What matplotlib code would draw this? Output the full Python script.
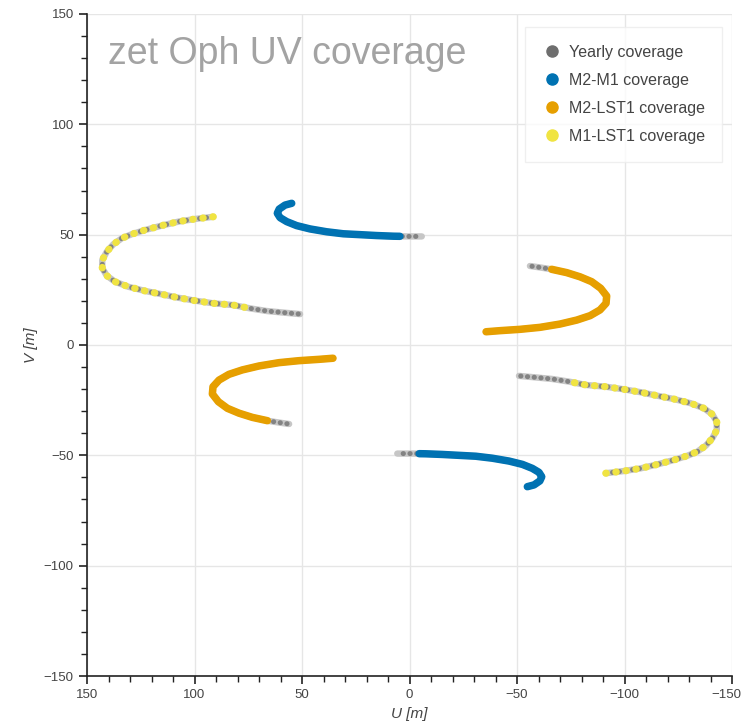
"""zet Oph UV coverage: yearly track per baseline with the observed part coloured."""

import matplotlib
matplotlib.use("Agg")
import matplotlib.pyplot as plt
from matplotlib.lines import Line2D
from matplotlib.ticker import FuncFormatter, MultipleLocator
import numpy as np

plt.rcParams["font.family"] = ["Liberation Sans", "DejaVu Sans"]

# One half of each baseline track (U, V in metres); the conjugate half is (-U, -V).
# Points are ordered so the observed (coloured) part comes first.
m1lst1_u = [91.3, 99.8, 107.5, 115.3, 123.0, 129.2, 133.9, 137.8, 140.8, 142.9, 142.9,
            140.8, 137.0, 130.8, 123.0, 115.3, 107.5, 99.8, 91.3, 82.0, 74.2,
            66.4, 58.8, 50.9]
m1lst1_v = [58.1, 57.1, 55.9, 54.1, 52.1, 50.2, 48.3, 45.6, 42.3, 38.5, 34.8,
            31.4, 28.7, 26.4, 24.5, 23.0, 21.4, 20.1, 18.9, 18.1, 16.6,
            15.4, 14.7, 14.0]
m1lst1_n_obs = 21

m2m1_u = [54.8, 57.9, 60.6, 61.5, 60.2, 57.1, 52.5, 46.3, 38.5, 30.8, 23.0, 15.3, 7.5,
          4.5, 1.3, -5.7]
m2m1_v = [64.2, 63.4, 61.6, 59.7, 57.7, 55.9, 54.1, 52.6, 51.3, 50.4, 50.0, 49.6, 49.3,
          49.25, 49.2, 49.2]
m2m1_n_obs = 14

m2lst1_u = [-35.6, -42.1, -51.4, -60.7, -70.0, -77.8, -84.0, -88.6, -91.4, -91.7,
            -88.9, -84.7, -79.3, -73.1, -66.1, -61.0, -56.0]
m2lst1_v = [6.0, 6.5, 7.1, 8.0, 9.5, 11.3, 13.3, 15.9, 18.9, 22.2,
            25.7, 28.7, 30.9, 32.8, 34.3, 35.1, 35.8]
m2lst1_n_obs = 15

labels = ["Yearly coverage", "M2-M1 coverage", "M2-LST1 coverage", "M1-LST1 coverage"]
colors = ["#6e6e6e", "#0072B2", "#E69F00", "#F0E442"]

U_MIN, U_MAX = -150, 150

baselines = [
    (m2m1_u, m2m1_v, m2m1_n_obs, colors[1], False),
    (m2lst1_u, m2lst1_v, m2lst1_n_obs, colors[2], False),
    (m1lst1_u, m1lst1_v, m1lst1_n_obs, colors[3], True),
]

fig = plt.figure(figsize=(7.45, 7.28), dpi=100)
ax = fig.add_axes([0.1168, 0.0714, 0.8658, 0.9094])

for u, v, n_obs, c, dotted in baselines:
    u = np.asarray(u)
    v = np.asarray(v)
    for s in (1, -1):
        # yearly track, grey dots
        ax.plot(s * u, s * v, color="#c6c6c6", lw=4.6, solid_capstyle="round",
                solid_joinstyle="round", zorder=2)
        ax.plot(s * u, s * v, color="#838383", lw=3.6, ls=(0, (0.05, 1.3)),
                dash_capstyle="round", dash_joinstyle="round", zorder=3)
        # observed part of the track
        uo, vo = s * u[:n_obs], s * v[:n_obs]
        if dotted:
            ax.plot(uo, vo, color=c, lw=5.2, ls=(0, (0.05, 1.35)),
                    dash_capstyle="round", dash_joinstyle="round", zorder=4)
        else:
            ax.plot(uo, vo, color=c, lw=5.4, solid_capstyle="round",
                    solid_joinstyle="round", zorder=4)

ax.set_xlim(U_MAX, U_MIN)
ax.set_ylim(-150, 150)
ax.xaxis.set_major_locator(MultipleLocator(50))
ax.yaxis.set_major_locator(MultipleLocator(50))
ax.xaxis.set_minor_locator(MultipleLocator(10))
ax.yaxis.set_minor_locator(MultipleLocator(10))
ax.grid(True, which="major", color="#e6e6e6", lw=1.0, zorder=0)
ax.set_axisbelow(True)
for side in ("top", "right"):
    ax.spines[side].set_visible(False)
for side in ("left", "bottom"):
    ax.spines[side].set_color("#222222")
    ax.spines[side].set_linewidth(1.2)
ax.tick_params(which="major", direction="out", length=6, width=1.2, color="#222222",
               labelsize=9.5, labelcolor="#444444")
ax.tick_params(which="minor", direction="out", length=4, width=1.0, color="#222222")

# the last x tick label is nudged left so it stays inside the canvas
ax.xaxis.set_major_formatter(FuncFormatter(
    lambda x, _: "" if x <= U_MIN else f"{x:.0f}".replace("-", "\u2212")))
ax.annotate(f"{U_MIN}".replace("-", "\u2212"), xy=(1, 0), xycoords="axes fraction",
            xytext=(-4, -9.5), textcoords="offset points", ha="center", va="top",
            fontsize=9.5, color="#444444")

ax.set_xlabel("U [m]", fontsize=11, fontstyle="italic", color="#444444", labelpad=4)
ax.set_ylabel("V [m]", fontsize=11, fontstyle="italic", color="#444444", labelpad=4)

ax.text(0.032, 0.9245, "zet Oph UV coverage", transform=ax.transAxes,
        fontsize=27, color="#a3a3a3", ha="left", va="baseline")

handles = [Line2D([], [], ls="none", marker="o", ms=8, mfc=c, mec=c) for c in colors]
leg = ax.legend(handles, labels, loc="upper right", bbox_to_anchor=(0.985, 0.98),
                fontsize=11.5, labelcolor="#444444", frameon=True, fancybox=False,
                borderpad=1.1, labelspacing=0.82, handletextpad=0.45, handlelength=1.2,
                borderaxespad=0.0)
leg.get_frame().set_edgecolor("#ececec")
leg.get_frame().set_linewidth(1.0)

fig.savefig("out.png", dpi=100)
